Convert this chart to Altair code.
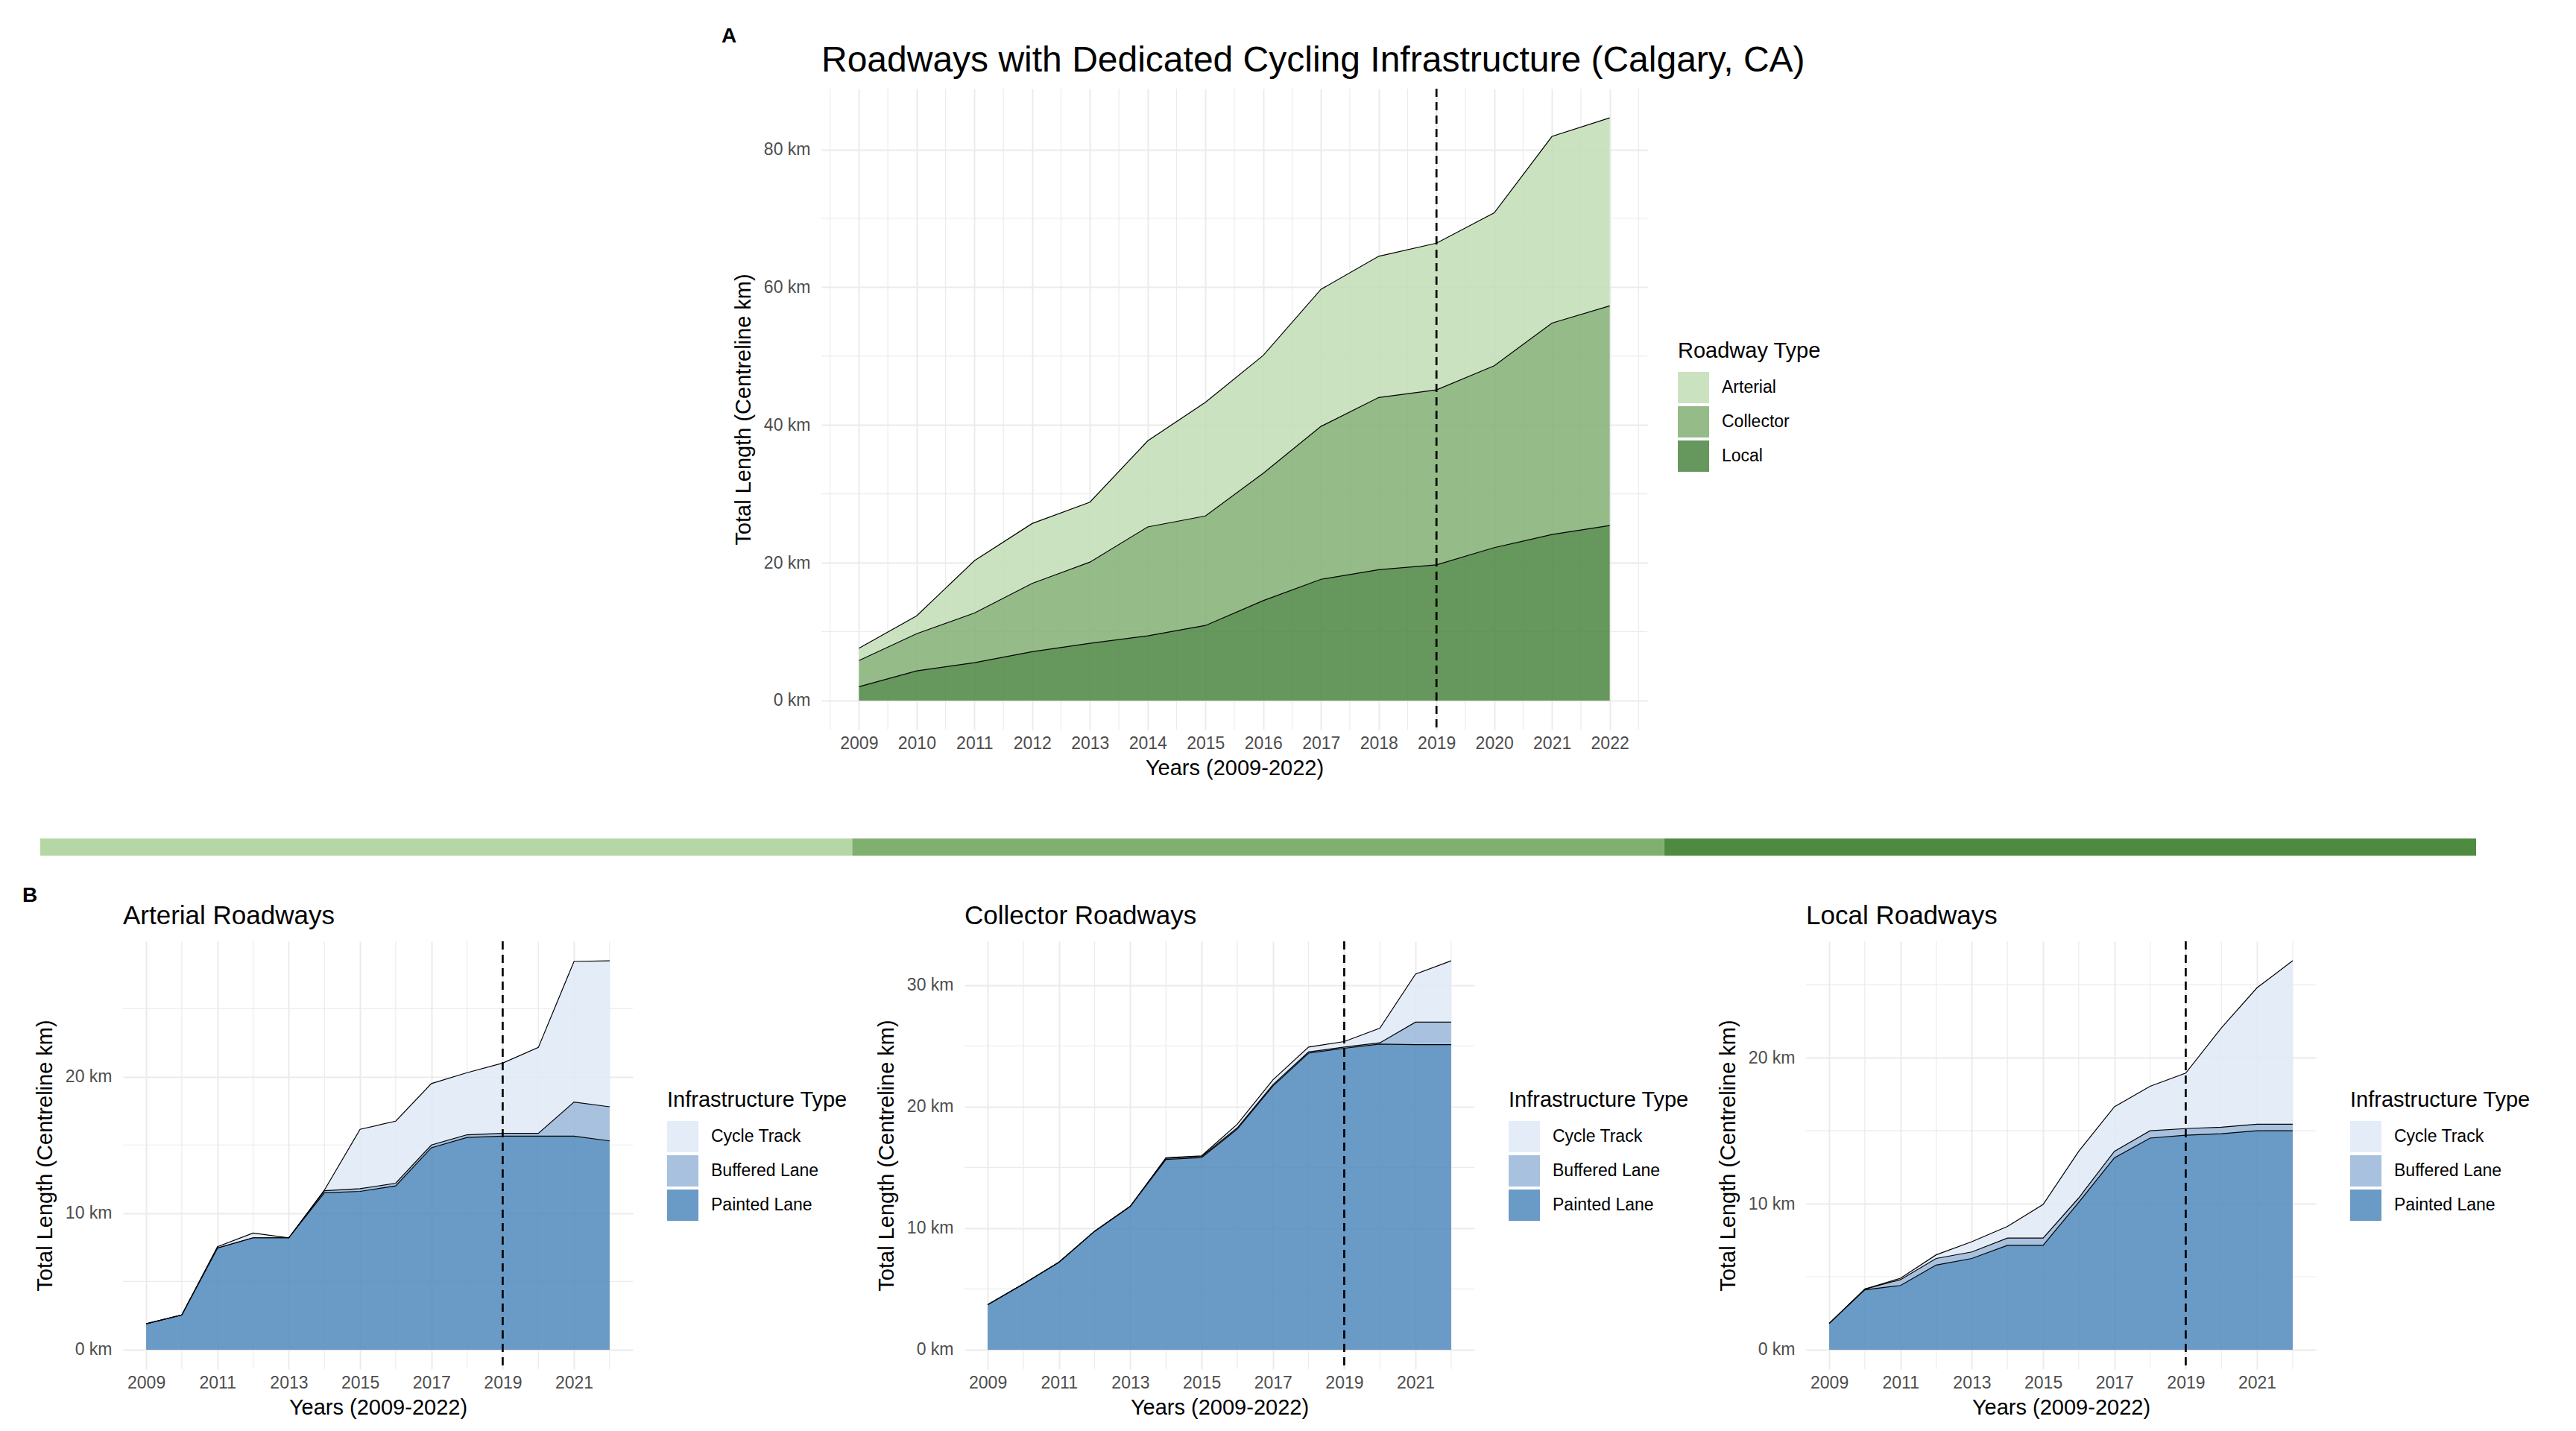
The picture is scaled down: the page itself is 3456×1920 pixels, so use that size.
import altair as alt
import pandas as pd

FONT = "Liberation Sans"
GRID = "#ebebeb"

years = [2009, 2010, 2011, 2012, 2013, 2014, 2015, 2016, 2017, 2018, 2019, 2020, 2021, 2022]
marker_year = 2019

# A: all roadways, centreline km by roadway type
roadway_types = ["Arterial", "Collector", "Local"]
arterial_km = [1.8, 2.6, 7.6, 8.7, 8.7, 12.5, 16.5, 17.1, 19.9, 20.5, 21.3, 22.2, 27.1, 27.3]
collector_km = [3.8, 5.4, 7.2, 9.9, 11.8, 15.8, 15.9, 18.5, 22.2, 25.0, 25.4, 26.4, 30.7, 31.9]
local_km = [2.0, 4.3, 5.5, 7.1, 8.3, 9.4, 10.9, 14.5, 17.6, 19.0, 19.7, 22.2, 24.1, 25.4]
roadway_colors = ["#c2ddb6", "#82af73", "#4b8540"]
band_colors = ["#b5d7a5", "#80b06f", "#4f8a41"]

# B: each roadway type by infrastructure type
infra_types = ["Cycle Track", "Buffered Lane", "Painted Lane"]
infra_colors = ["#dfe9f6", "#99b6d8", "#5088bc"]

arterial_painted = [1.9, 2.55, 7.45, 8.2, 8.2, 11.5, 11.6, 12.0, 14.8, 15.55, 15.65, 15.65, 15.65, 15.3]
arterial_buffered = [0, 0, 0, 0, 0, 0.15, 0.2, 0.2, 0.2, 0.2, 0.2, 0.2, 2.5, 2.5]
arterial_cycle = [0, 0, 0.1, 0.35, 0, 0.05, 4.35, 4.55, 4.5, 4.55, 5.15, 6.3, 10.3, 10.7]

collector_painted = [3.7, 5.4, 7.2, 9.75, 11.8, 15.65, 15.8, 18.15, 21.7, 24.4, 24.8, 25.15, 25.1, 25.1]
collector_buffered = [0, 0, 0, 0, 0, 0.1, 0.1, 0.1, 0.1, 0.1, 0.1, 0.1, 1.85, 1.85]
collector_cycle = [0, 0, 0, 0, 0, 0.05, 0.05, 0.3, 0.4, 0.4, 0.45, 1.2, 3.95, 5.05]

local_painted = [1.8, 4.1, 4.4, 5.8, 6.25, 7.15, 7.15, 10.1, 13.15, 14.5, 14.7, 14.8, 15.0, 15.0]
local_buffered = [0, 0.05, 0.4, 0.45, 0.45, 0.5, 0.5, 0.3, 0.45, 0.5, 0.45, 0.45, 0.45, 0.45]
local_cycle = [0, 0, 0.1, 0.25, 0.7, 0.8, 2.3, 3.2, 3.05, 3.05, 3.8, 6.8, 9.35, 11.2]

x_domain = [2008.35, 2022.65]


def stack(series, order):
    rows = []
    for i, yr in enumerate(years):
        base = 0.0
        for name in order:
            top = base + series[name][i]
            rows.append({"year": yr, "type": name, "lower": base, "upper": top})
            base = top
    return pd.DataFrame(rows)


def text_mark(label, dx, dy, size, weight="normal"):
    return alt.Chart(pd.DataFrame({"label": [label]})).mark_text(
        font=FONT, fontSize=size, fontWeight=weight, align="left",
        baseline="alphabetic", color="black"
    ).encode(x=alt.value(dx), y=alt.value(dy), text="label:N")


def stacked_panel(df, title, title_size, x_major, x_minor, y_major, y_minor,
                  types, colors, legend_title, legend_x, legend_y):
    top = df["upper"].max()
    xs = alt.Scale(domain=x_domain, nice=False, zero=False)
    ys = alt.Scale(domain=[-0.05 * top, 1.05 * top], nice=False, zero=False)
    x_axis = alt.Axis(values=x_major, format="d", title="Years (2009-2022)",
                      grid=True, labelFlush=False)
    y_axis = alt.Axis(values=y_major, labelExpr="datum.value + ' km'",
                      title="Total Length (Centreline km)", grid=True)

    def xe(field):
        return alt.X(field, type="quantitative", scale=xs, axis=x_axis)

    def ye(field):
        return alt.Y(field, type="quantitative", scale=ys, axis=y_axis)

    minor_x = alt.Chart(pd.DataFrame({"year": x_minor})).mark_rule(
        color=GRID, strokeWidth=1.2).encode(x=xe("year"))
    minor_y = alt.Chart(pd.DataFrame({"upper": y_minor})).mark_rule(
        color=GRID, strokeWidth=1.2).encode(y=ye("upper"))

    areas = alt.Chart(df).mark_area(opacity=0.85).encode(
        x=xe("year"),
        y=ye("upper"),
        y2="lower:Q",
        color=alt.Color("type:N", scale=alt.Scale(domain=types, range=colors),
                        legend=alt.Legend(title=legend_title, orient="none",
                                          legendX=legend_x, legendY=legend_y)),
    )
    lines = alt.Chart(df).mark_line(color="black", strokeWidth=1.2).encode(
        x=xe("year"), y=ye("upper"), detail="type:N",
    )
    marker = alt.Chart(pd.DataFrame({"year": [marker_year]})).mark_rule(
        color="black", strokeDash=[11, 7], strokeWidth=2.7
    ).encode(x=xe("year"))

    return alt.layer(minor_x, minor_y, areas, lines, marker,
                     text_mark(title, 0, -23, title_size))


# ---- panel A
df_a = stack({"Local": local_km, "Collector": collector_km, "Arterial": arterial_km},
             ["Local", "Collector", "Arterial"])
inner_a = alt.layer(
    stacked_panel(df_a, "Roadways with Dedicated Cycling Infrastructure (Calgary, CA)", 48,
                  years, [y - 0.5 for y in years] + [2022.5],
                  [0, 20, 40, 60, 80], [10, 30, 50, 70],
                  roadway_types, roadway_colors, "Roadway Type", 1149, 338),
    text_mark("A", -134, -62, 28, "bold"),
)

band = alt.Chart(pd.DataFrame({"segment": roadway_types})).mark_bar().encode(
    x=alt.X("segment:N", sort=roadway_types,
            scale=alt.Scale(range=[-1048, 2220], paddingInner=0, paddingOuter=0),
            axis=None),
    y=alt.value(1006),
    y2=alt.value(1029),
    fill=alt.Fill("segment:N", scale=alt.Scale(domain=roadway_types, range=band_colors),
                  legend=None),
)

chart_a = alt.layer(inner_a, band).resolve_scale(x="independent").properties(
    width=1108, height=860)

spacer = alt.Chart(pd.DataFrame({"v": [0]})).mark_text(text="").encode(
    x=alt.value(0), y=alt.value(0)).properties(width=900, height=860)

row_a = alt.hconcat(spacer, chart_a, spacing=37, bounds="flush").resolve_scale(
    color="independent", fill="independent")

# ---- panel B
odd_years = [2009, 2011, 2013, 2015, 2017, 2019, 2021]
even_years = [2010, 2012, 2014, 2016, 2018, 2020, 2022]
infra_order = ["Painted Lane", "Buffered Lane", "Cycle Track"]

panels = []
for name, painted, buffered, cycle, y_major in [
    ("Arterial Roadways", arterial_painted, arterial_buffered, arterial_cycle, [0, 10, 20]),
    ("Collector Roadways", collector_painted, collector_buffered, collector_cycle, [0, 10, 20, 30]),
    ("Local Roadways", local_painted, local_buffered, local_cycle, [0, 10, 20]),
]:
    df = stack({"Painted Lane": painted, "Buffered Lane": buffered, "Cycle Track": cycle},
               infra_order)
    p = stacked_panel(df, name, 35, odd_years, even_years, y_major, [5, 15, 25],
                      infra_types, infra_colors, "Infrastructure Type", 730, 199)
    if name.startswith("Arterial"):
        p = alt.layer(p, text_mark("B", -135, -53, 28, "bold"))
    panels.append(p.properties(width=684, height=574))

row_b = alt.hconcat(*panels, spacing=445, bounds="flush").resolve_scale(color="independent")

chart = alt.vconcat(row_a, row_b, spacing=40).resolve_scale(
    color="independent", fill="independent"
).properties(
    padding={"left": 22, "top": 27, "right": 5, "bottom": 5}
).configure(font=FONT).configure_view(stroke=None).configure_axis(
    labelFont=FONT, labelFontSize=23, labelColor="#4d4d4d",
    titleFont=FONT, titleFontSize=29, titleFontWeight="normal", titleColor="black",
    domain=False, ticks=False, tickSize=0, gridColor=GRID, gridWidth=2,
).configure_axisX(labelPadding=7, titlePadding=7).configure_axisY(
    labelPadding=15, titlePadding=12
).configure_legend(
    titleFont=FONT, labelFont=FONT, titleFontSize=29, labelFontSize=23,
    titleFontWeight="normal", titleColor="black", labelColor="black",
    titleLimit=500, labelLimit=400,
    symbolType="square", symbolSize=1764, symbolStrokeWidth=0, symbolOpacity=0.85,
    rowPadding=4, titlePadding=13, labelOffset=17, padding=0,
)

chart.save("out.html", embed_options={"renderer": "svg", "actions": False})
